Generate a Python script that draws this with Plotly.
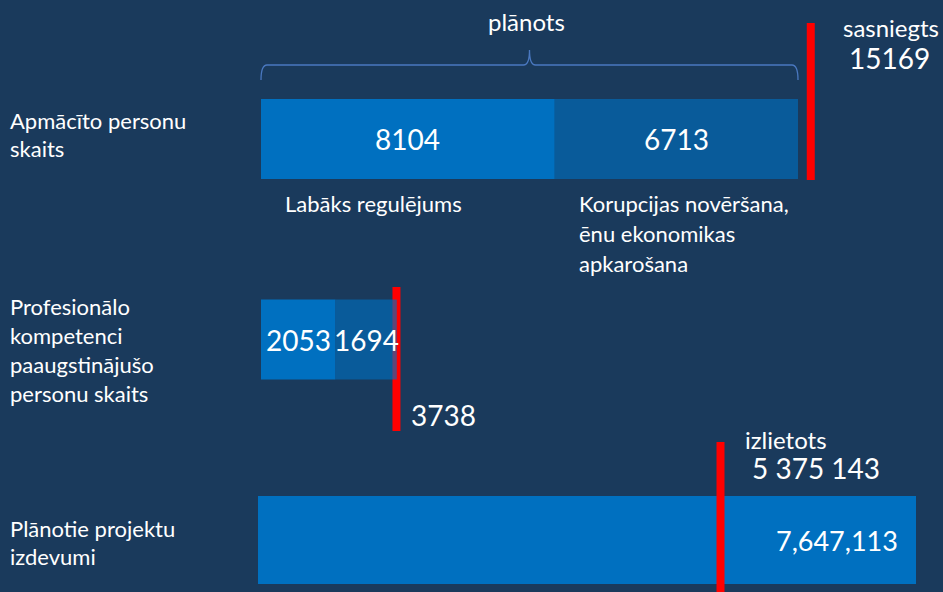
import plotly.graph_objects as go

# ---------------- data ----------------
categories = ["Apmācīto personu skaits",
              "Profesionālo kompetenci paaugstinājušo personu skaits",
              "Plānotie projektu izdevumi"]
row_label_lines = [["Apmācīto personu", "skaits"],
                   ["Profesionālo", "kompetenci", "paaugstinājušo", "personu skaits"],
                   ["Plānotie projektu", "izdevumi"]]
segment_name_lines = [["Labāks regulējums"],
                      ["Korupcijas novēršana,", "ēnu ekonomikas", "apkarošana"]]

trained_planned = [8104, 6713]          # Labāks regulējums, Korupcijas novēršana
trained_achieved = 15169
competence_planned = [2053, 1694]
competence_achieved = 3738
budget_planned = 7647113
budget_spent = 5375143
budget_planned_label = "7,647,113"
budget_spent_label = "5 375 143"

# ---------------- style ----------------
W, H = 943, 592
BG = "#1A3A5C"
BLUE = "#0070C0"
BLUE2 = "rgba(0,112,192,0.62)"
RED = "#FF0000"
BRACE = "#4A78C0"
FONT = "Lato"
WHITE = "#FFFFFF"

# axis scales (pixel layout of the infographic)
k1 = 537 / 14817.0            # px per person
x1_range = [-261 / k1, (W - 261) / k1]
k2 = 658 / 7647113.0          # px per euro
x2_range = [-258 / k2, (W - 258) / k2]
y_range = [(H - 139) / 200.5, -139 / 200.5]

fig = go.Figure()

fig.add_trace(go.Bar(
    y=categories[:2], x=[trained_planned[0], competence_planned[0]], base=[0, 0],
    orientation="h", marker=dict(color=BLUE, line_width=0), width=0.4,
    hoverinfo="skip", showlegend=False))
fig.add_trace(go.Bar(
    y=categories[:2], x=[trained_planned[1], competence_planned[1]],
    base=[trained_planned[0], competence_planned[0]],
    orientation="h", marker=dict(color=BLUE2, line_width=0), width=0.4,
    hoverinfo="skip", showlegend=False))
fig.add_trace(go.Bar(
    y=[categories[2]], x=[budget_planned], base=[0], xaxis="x2",
    orientation="h", marker=dict(color=BLUE, line_width=0), width=0.44,
    hoverinfo="skip", showlegend=False))

def py(p):
    return 1 - p / H

def px(p):
    return p / W

# red "achieved" lines
fig.add_shape(type="line", xref="x", yref="paper", x0=trained_achieved, x1=trained_achieved,
              y0=py(180), y1=py(23), line=dict(color=RED, width=8), layer="above")
fig.add_shape(type="line", xref="x", yref="paper", x0=competence_achieved, x1=competence_achieved,
              y0=py(431), y1=py(287), line=dict(color=RED, width=8), layer="below")
fig.add_shape(type="line", xref="x2", yref="paper", x0=budget_spent, x1=budget_spent,
              y0=py(592), y1=py(442), line=dict(color=RED, width=8), layer="above")

# brace over planned total
total = sum(trained_planned)
mid = total / 2
dx = 6 / k1
yE, yM, yT = py(80), py(65), py(50)
path = (f"M {0},{yE} Q {0},{yM} {dx},{yM} L {mid-dx},{yM} Q {mid},{yM} {mid},{yT} "
        f"Q {mid},{yM} {mid+dx},{yM} L {total-dx},{yM} Q {total},{yM} {total},{yE}")
fig.add_shape(type="path", xref="x", yref="paper", path=path,
              line=dict(color=BRACE, width=1.3), layer="above")

ann = []

def text_at(t, xp, yp, size, xanchor="left"):
    ann.append(dict(text=t, x=px(xp), y=py(yp), xref="paper", yref="paper",
                    xanchor=xanchor, yanchor="middle", showarrow=False,
                    font=dict(family=FONT, size=size, color=WHITE)))

text_at("plānots", 526, 21, 24, "center")
text_at("sasniegts", 841, 28, 24)
text_at(str(trained_achieved), 847, 58, 28)
text_at(str(competence_achieved), 409, 415, 28)
text_at("izlietots", 743, 439, 24)
text_at(budget_spent_label, 750, 468, 28)

# row labels
for lines, y0 in zip(row_label_lines, [120, 307, 528]):
    for i, ln in enumerate(lines):
        text_at(ln, 8, y0 + i * 28.8, 22)

# segment names
for lines, x0 in zip(segment_name_lines, [283, 577]):
    for i, ln in enumerate(lines):
        text_at(ln, x0, 204 + i * 29.5, 22)

# values inside bars
cum = 0
for v in trained_planned:
    ann.append(dict(text=str(v), x=cum + v / 2, y=categories[0], xref="x", yref="y",
                    showarrow=False, xanchor="center", yanchor="middle",
                    font=dict(family=FONT, size=28, color=WHITE)))
    cum += v
cum = 0
for v in competence_planned:
    ann.append(dict(text=str(v), x=cum + v / 2, y=categories[1], xref="x", yref="y",
                    showarrow=False, xanchor="center", yanchor="middle",
                    font=dict(family=FONT, size=28, color=WHITE)))
    cum += v
ann.append(dict(text=budget_planned_label, x=budget_planned, y=categories[2], xref="x2", yref="y",
                showarrow=False, xanchor="right", yanchor="middle", xshift=-16,
                font=dict(family=FONT, size=27, color=WHITE)))

fig.update_layout(
    width=W, height=H,
    margin=dict(l=0, r=0, t=0, b=0),
    paper_bgcolor=BG, plot_bgcolor="rgba(0,0,0,0)",
    barmode="overlay",
    showlegend=False,
    annotations=ann,
    xaxis=dict(range=x1_range, visible=False, fixedrange=True),
    xaxis2=dict(range=x2_range, visible=False, overlaying="x", fixedrange=True),
    yaxis=dict(type="category", categoryarray=categories, categoryorder="array",
               range=y_range, visible=False, fixedrange=True),
    font=dict(family=FONT, color=WHITE),
)

fig.write_html("out.html", config={"displayModeBar": False},
               post_script="document.body.style.margin='0px';document.body.style.overflow='hidden';")
